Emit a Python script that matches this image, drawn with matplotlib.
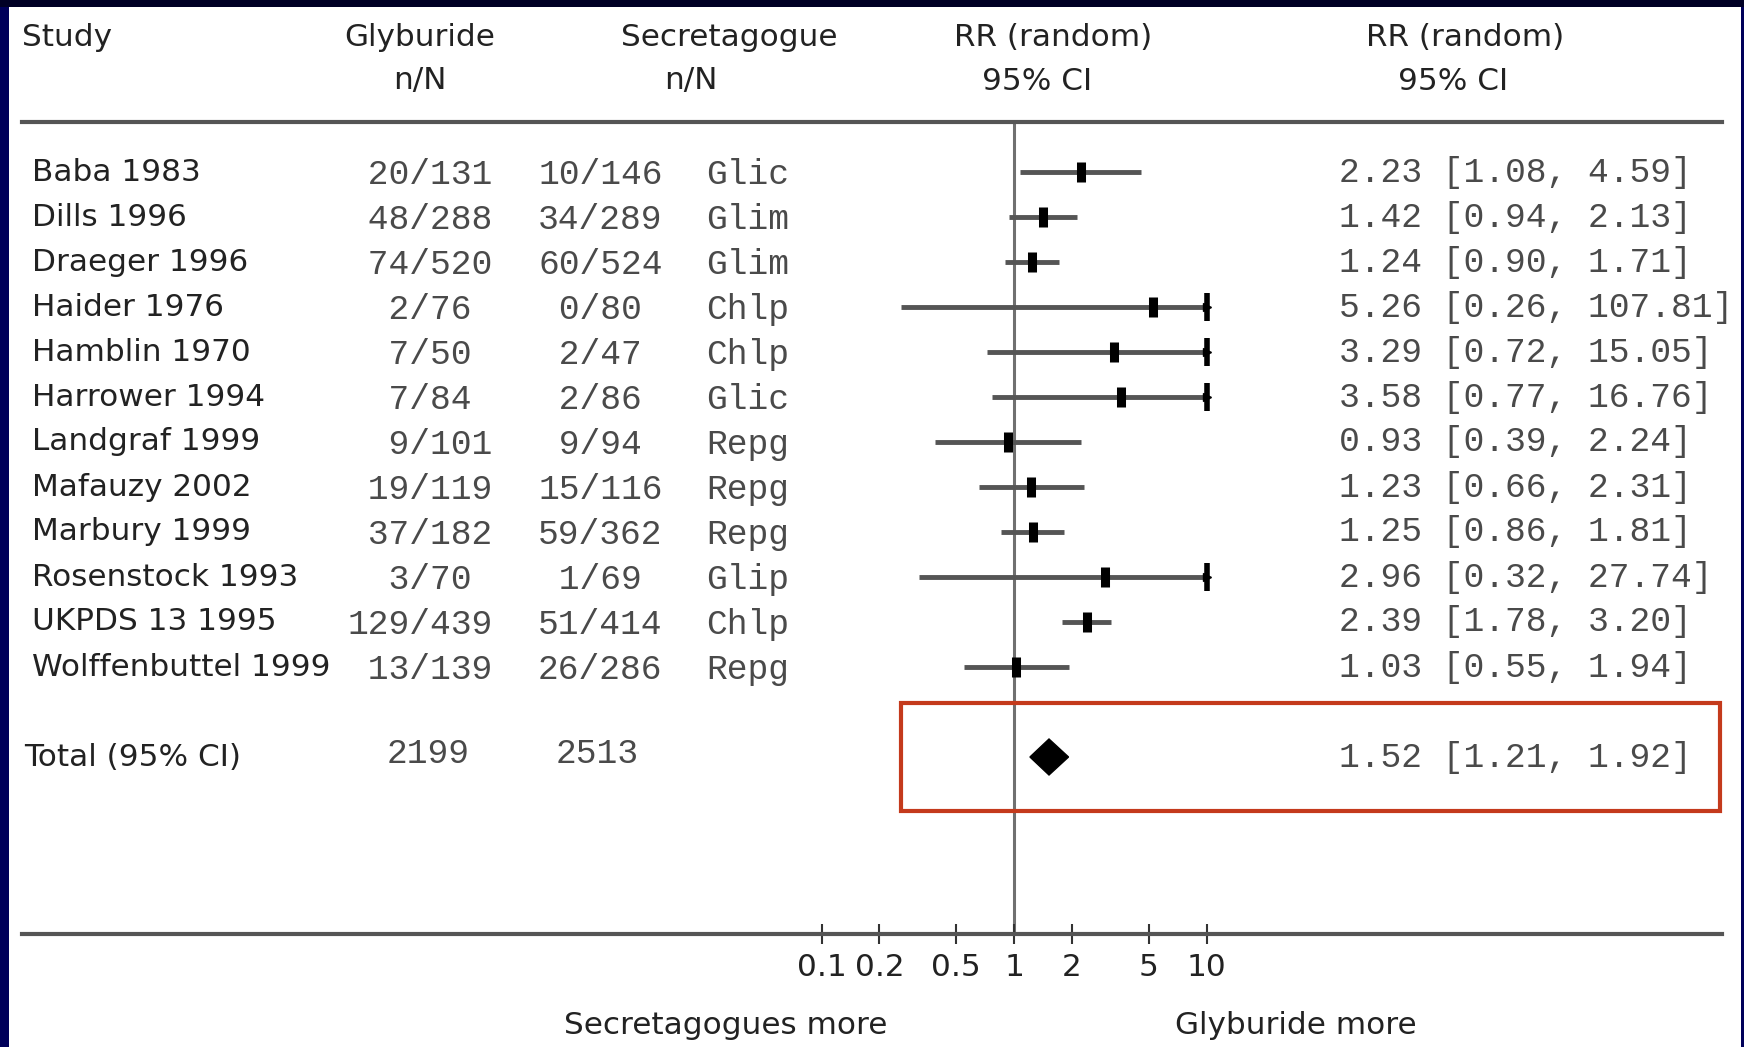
import matplotlib
matplotlib.use('Agg')
import matplotlib.pyplot as plt
import matplotlib.transforms as mtransforms
from matplotlib.patches import Rectangle

# Data
studies = ['Baba 1983', 'Dills 1996', 'Draeger 1996', 'Haider 1976', 'Hamblin 1970',
           'Harrower 1994', 'Landgraf 1999', 'Mafauzy 2002', 'Marbury 1999',
           'Rosenstock 1993', 'UKPDS 13 1995', 'Wolffenbuttel 1999']
gly_n = [20, 48, 74, 2, 7, 7, 9, 19, 37, 3, 129, 13]
gly_N = [131, 288, 520, 76, 50, 84, 101, 119, 182, 70, 439, 139]
sec_n = [10, 34, 60, 0, 2, 2, 9, 15, 59, 1, 51, 26]
sec_N = [146, 289, 524, 80, 47, 86, 94, 116, 362, 69, 414, 286]
drug = ['Glic', 'Glim', 'Glim', 'Chlp', 'Chlp', 'Glic', 'Repg', 'Repg', 'Repg',
        'Glip', 'Chlp', 'Repg']
rr = [2.23, 1.42, 1.24, 5.26, 3.29, 3.58, 0.93, 1.23, 1.25, 2.96, 2.39, 1.03]
lo = [1.08, 0.94, 0.90, 0.26, 0.72, 0.77, 0.39, 0.66, 0.86, 0.32, 1.78, 0.55]
hi = [4.59, 2.13, 1.71, 107.81, 15.05, 16.76, 2.24, 2.31, 1.81, 27.74, 3.20, 1.94]
total_gly = 2199
total_sec = 2513
total_rr, total_lo, total_hi = 1.52, 1.21, 1.92
ticks = [0.1, 0.2, 0.5, 1, 2, 5, 10]
tick_labels = ['0.1', '0.2', '0.5', '1', '2', '5', '10']

W, H = 1744, 1047
fig = plt.figure(figsize=(W / 100, H / 100), dpi=100, facecolor='#00005a')
fig.patches.append(Rectangle((9 / W, 0), (1741 - 9) / W, (H - 7) / H,
                             transform=fig.transFigure, facecolor='white',
                             edgecolor='none', zorder=-10))
fig.patches.append(Rectangle((0, (H - 7) / H), 1, 7 / H, transform=fig.transFigure,
                             facecolor='#000025', edgecolor='none', zorder=-10))

sans = 'DejaVu Sans'
mono = 'Liberation Mono'
dark = '#222222'
grey = '#4a4a4a'
fs = 22.4
fm = 24.9

def fx(px):
    return px / W

def fy(py):
    return 1 - py / H

# forest axes: top spine = header rule, bottom spine = scale
ax_l, ax_r, ax_t, ax_b = 22, 1722, 122, 934
ax = fig.add_axes([fx(ax_l), fy(ax_b), (ax_r - ax_l) / W, (ax_b - ax_t) / H])
ax.set_zorder(5)
ax.set_facecolor('none')
ax.set_xscale('log')
dec = 192.5
one = 1014
ax.set_xlim(10 ** ((ax_l - one) / dec), 10 ** ((ax_r - one) / dec))
ax.set_ylim((ax_b - 172) / 45, (ax_t - 172) / 45)

for s in ['left', 'right']:
    ax.spines[s].set_visible(False)
for s in ['top', 'bottom']:
    ax.spines[s].set_color('#555555')
    ax.spines[s].set_linewidth(3)
ax.set_yticks([])
ax.set_xticks(ticks)
ax.set_xticklabels(tick_labels)
ax.minorticks_off()
ax.tick_params(axis='x', direction='inout', length=14, width=1.5, color='#333333',
               pad=7, labelsize=fs, labelcolor=dark)
for lab in ax.get_xticklabels():
    lab.set_family(sans)

# line of no effect
ax.axvline(1, color='#707070', lw=2.2, zorder=1)

# study rows
rows = list(range(len(studies)))
for r, m, l, h in zip(rows, rr, lo, hi):
    h_plot = min(h, 10)
    ax.plot([l, h_plot], [r, r], color='#555555', lw=3.5, solid_capstyle='butt', zorder=2)
    ax.plot([m], [r], marker='|', color='black', markersize=15, markeredgewidth=6.5,
            zorder=3, linestyle='none')
    if h > 10:
        ax.plot([10], [r], marker='|', color='black', markersize=20, markeredgewidth=4,
                zorder=3, linestyle='none')
        ax.plot([10], [r], marker='>', color='black', markersize=6, zorder=3,
                linestyle='none')

# pooled estimate
total_row = len(studies) + 1
dh = 0.4
ax.fill([total_lo, total_rr, total_hi, total_rr],
        [total_row, total_row - dh, total_row, total_row + dh],
        color='black', zorder=3)

# highlight box
bt = mtransforms.blended_transform_factory(ax.transAxes, ax.transData)
x0 = (901 - ax_l) / (ax_r - ax_l)
x1 = (1720 - ax_l) / (ax_r - ax_l)
ax.add_patch(Rectangle((x0, total_row - 1.2), x1 - x0, 2.4, transform=bt,
                       fill=False, edgecolor='#c43a1c', lw=3, zorder=4, clip_on=False))

# table text
tt = mtransforms.blended_transform_factory(fig.transFigure, ax.transData)
for r in rows:
    ax.text(fx(32), r, studies[r], transform=tt, ha='left', va='center',
            family=sans, fontsize=fs, color=dark)
    ax.text(fx(347), r + 0.05, f'{gly_n[r]:>3}/{gly_N[r]}', transform=tt, ha='left',
            va='center', family=mono, fontsize=fm, color=grey)
    ax.text(fx(538), r + 0.05, f'{sec_n[r]:>2}/{sec_N[r]}', transform=tt, ha='left',
            va='center', family=mono, fontsize=fm, color=grey)
    ax.text(fx(706), r + 0.05, drug[r], transform=tt, ha='left', va='center',
            family=mono, fontsize=fm, color=grey)
    ax.text(fx(1339), r, f'{rr[r]:.2f} [{lo[r]:.2f}, {hi[r]:.2f}]', transform=tt,
            ha='left', va='center', family=mono, fontsize=fm, color=grey)

ax.text(fx(24), total_row, 'Total (95% CI)', transform=tt, ha='left', va='center',
        family=sans, fontsize=fs, color=dark)
ax.text(fx(428), total_row - 0.08, str(total_gly), transform=tt, ha='center',
        va='center', family=mono, fontsize=fm, color=grey)
ax.text(fx(597), total_row - 0.08, str(total_sec), transform=tt, ha='center',
        va='center', family=mono, fontsize=fm, color=grey)
ax.text(fx(1339), total_row, f'{total_rr:.2f} [{total_lo:.2f}, {total_hi:.2f}]',
        transform=tt, ha='left', va='center', family=mono, fontsize=fm, color=grey)

# headers
hdr = dict(family=sans, fontsize=fs, color=dark, va='center')
fig.text(fx(22), fy(37), 'Study', ha='left', **hdr)
fig.text(fx(420), fy(37), 'Glyburide', ha='center', **hdr)
fig.text(fx(420), fy(81), 'n/N', ha='center', **hdr)
fig.text(fx(729), fy(37), 'Secretagogue', ha='center', **hdr)
fig.text(fx(691), fy(81), 'n/N', ha='center', **hdr)
fig.text(fx(1053), fy(37), 'RR (random)', ha='center', **hdr)
fig.text(fx(1037), fy(81), '95% CI', ha='center', **hdr)
fig.text(fx(1465), fy(37), 'RR (random)', ha='center', **hdr)
fig.text(fx(1453), fy(81), '95% CI', ha='center', **hdr)

# favours labels
fig.text(fx(726), fy(1026), 'Secretagogues more', ha='center', **hdr)
fig.text(fx(1296), fy(1026), 'Glyburide more', ha='center', **hdr)

fig.savefig('out.png', dpi=100, facecolor=fig.get_facecolor())
